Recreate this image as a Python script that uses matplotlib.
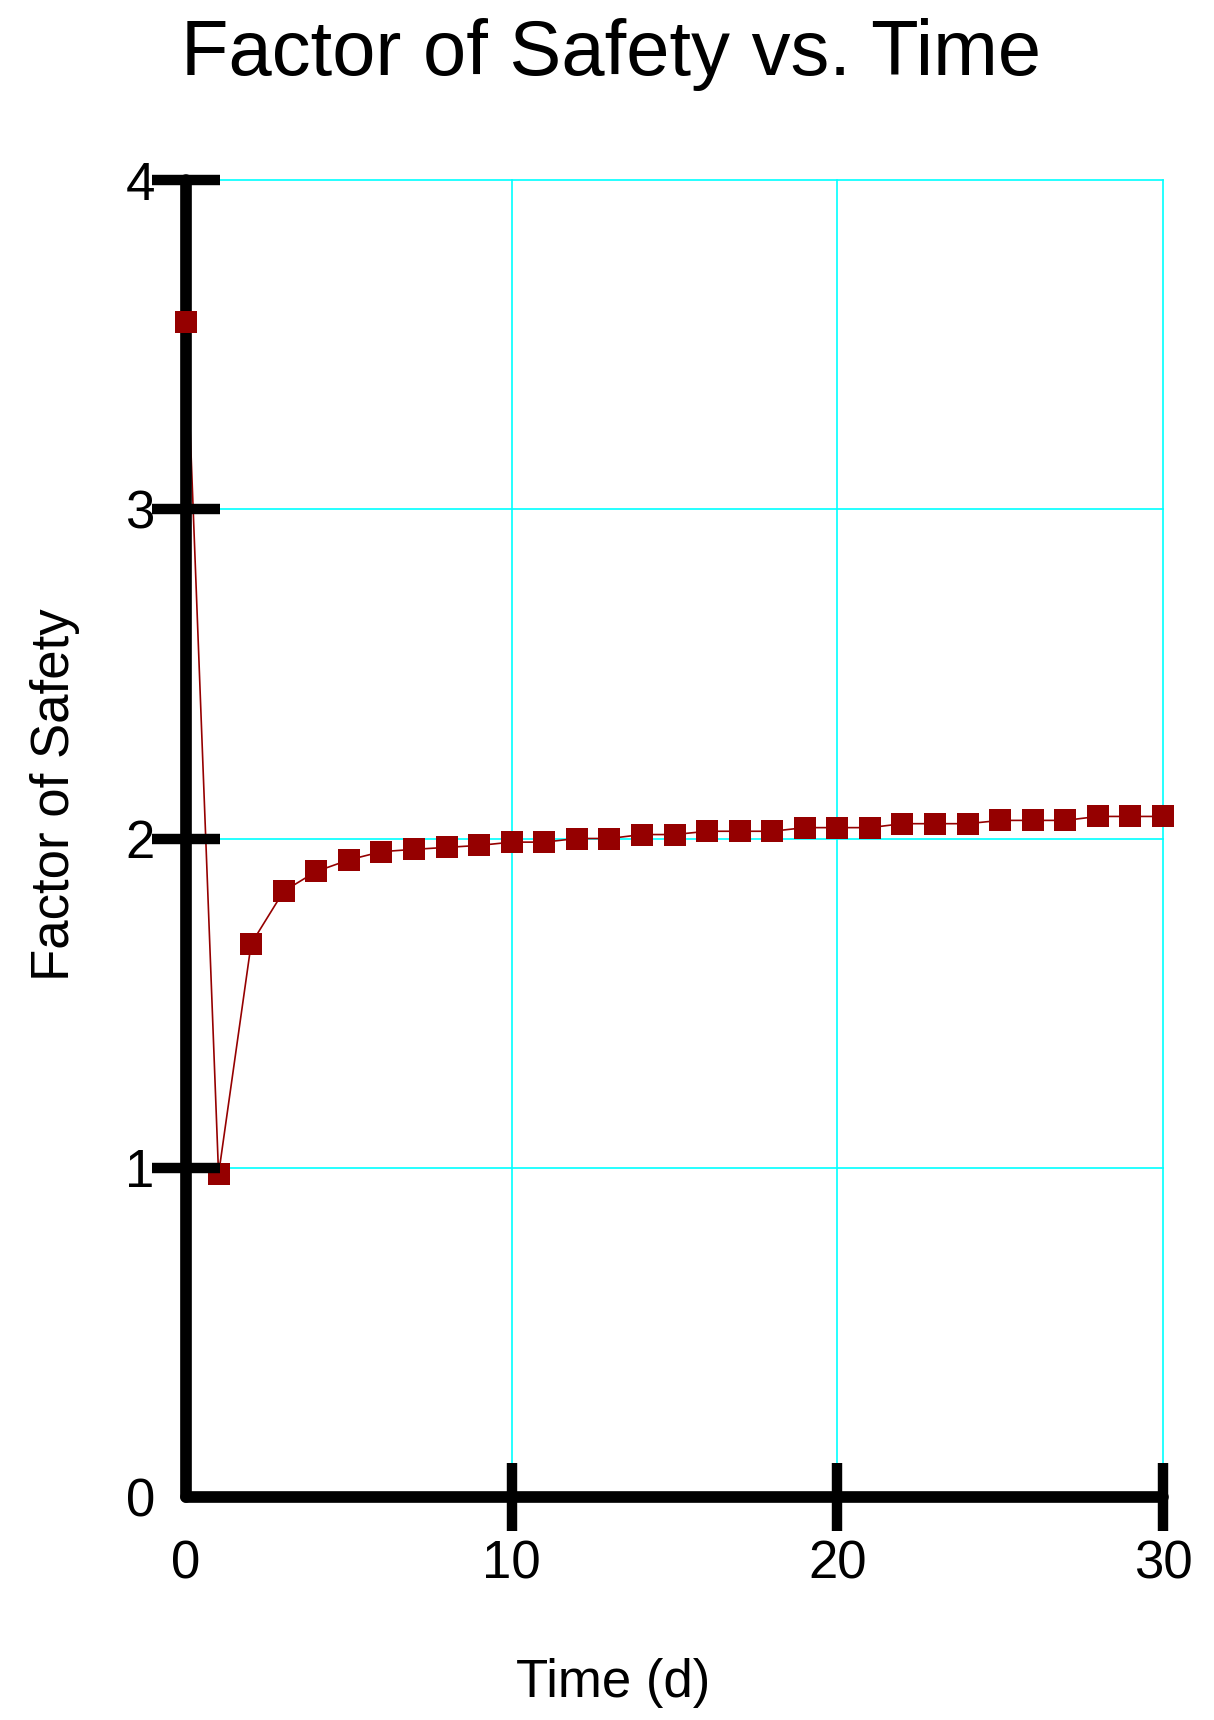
"""Factor of safety over time, drawn in the style of the original report plot."""

import matplotlib
matplotlib.use('Agg')
import matplotlib.pyplot as plt

plt.rcParams['font.family'] = ['Liberation Sans', 'DejaVu Sans']

# data
time_days = list(range(31))
factor_of_safety = [3.57, 0.98, 1.68, 1.84, 1.90, 1.935, 1.96, 1.967, 1.973, 1.979,
                    1.989, 1.989, 2.000, 2.000, 2.012, 2.012, 2.022, 2.022, 2.022, 2.033,
                    2.033, 2.033, 2.045, 2.045, 2.045, 2.055, 2.055, 2.055, 2.067, 2.067,
                    2.067]
x_ticks = [0, 10, 20, 30]
y_ticks = [0, 1, 2, 3, 4]

red = '#950000'
cyan = '#00ffff'

fig = plt.figure(figsize=(12.14, 17.2), dpi=100)
ax = fig.add_axes([186 / 1214, 1 - 1497 / 1720, (1163 - 186) / 1214, (1497 - 180) / 1720])

# grid drawn by hand so markers can sit on top of it but under the ticks
for x in x_ticks[1:]:
    ax.axvline(x, color=cyan, lw=1.2, zorder=1, clip_on=False)
for y in y_ticks[1:]:
    ax.axhline(y, color=cyan, lw=1.2, zorder=1, clip_on=False)

ax.plot(time_days, factor_of_safety, color=red, lw=1.2, zorder=2, clip_on=False)
ax.plot(time_days, factor_of_safety, 's', color=red, ms=16, mew=0, zorder=3, clip_on=False)

ax.set_xlim(0, 30)
ax.set_ylim(0, 4)
ax.set_xticks(x_ticks)
ax.set_yticks(y_ticks)

for side in ['top', 'right']:
    ax.spines[side].set_visible(False)
for side in ['left', 'bottom']:
    ax.spines[side].set_linewidth(8.4)
    ax.spines[side].set_zorder(2.2)
    ax.spines[side].set_capstyle('round')

ax.tick_params(axis='both', direction='inout', length=49, width=7.5, color='black',
               labelsize=38)
ax.tick_params(axis='y', pad=-2)
ax.tick_params(axis='x', pad=6)
ax.xaxis.set_zorder(5)
ax.yaxis.set_zorder(5)
# no tick marks at the origin
ax.xaxis.get_major_ticks()[0].tick1line.set_visible(False)
ax.yaxis.get_major_ticks()[0].tick1line.set_visible(False)

fig.text(0.503, 1 - 75 / 1720, 'Factor of Safety vs. Time', fontsize=56,
         ha='center', va='baseline')
fig.text(0.505, 1 - 1697 / 1720, 'Time (d)', fontsize=38, ha='center', va='baseline')
fig.text(55 / 1214, 1 - 795 / 1720, 'Factor of Safety', fontsize=38, rotation=90,
         ha='center', va='center')

fig.savefig('out.png', dpi=100)
